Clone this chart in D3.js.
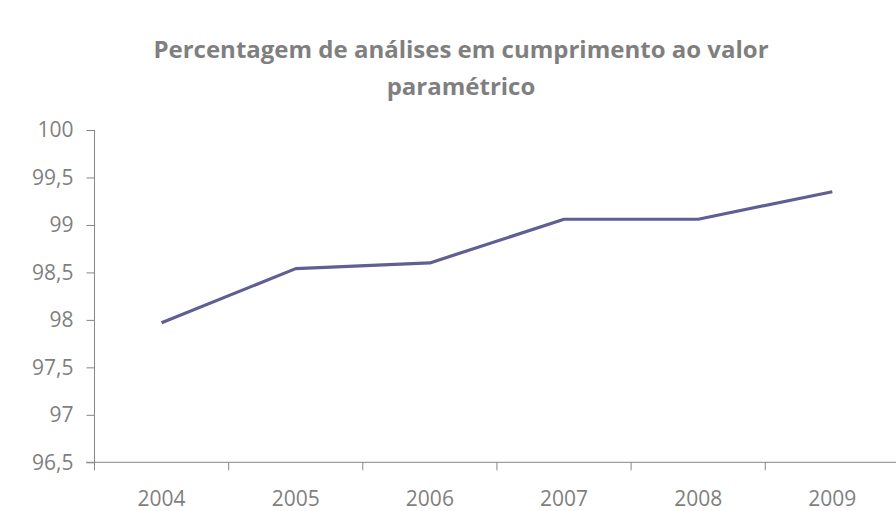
<!DOCTYPE html>
<html>
<head>
<meta charset="utf-8">
<script src="https://cdn.jsdelivr.net/npm/d3@7"></script>
<style>
  body { margin: 0; background: #fff; }
  svg { display: block; }
</style>
</head>
<body>
<div class="vis"></div>
<script>
const years = ["2004", "2005", "2006", "2007", "2008", "2009"],
    values = [97.97, 98.54, 98.6, 99.06, 99.06, 99.35],
    yTicks = [96.5, 97, 97.5, 98, 98.5, 99, 99.5, 100],
    titleLines = ["Percentagem de análises em cumprimento ao valor", "paramétrico"];

const width = 896,
    height = 511,
    margin = {top: 130, right: -3.4, bottom: 48.7, left: 94.5},
    textColor = "#7f7f7f",
    axisColor = "#868686",
    lineColor = "#5f5f95",
    font = "'Open Sans', 'Noto Sans', sans-serif";

let svg = d3.select(".vis")
    .append("svg")
    .attr("width", width)
    .attr("height", height)
    .style("font-family", font);

let x = d3.scaleBand()
    .domain(years)
    .range([margin.left, width - margin.right])
    .padding(0);

let y = d3.scaleLinear()
    .domain([96.5, 100])
    .range([height - margin.bottom, margin.top]);

// titulo
let title = svg.append("text")
    .attr("text-anchor", "middle")
    .attr("fill", textColor)
    .style("font-size", "24px")
    .style("font-weight", "bold");

title.selectAll("tspan")
    .data(titleLines)
    .join("tspan")
    .attr("x", 461)
    .attr("y", (d, i) => 58.3 + i * 36.7)
    .text(d => d);

// eixo y
let yAxis = svg.append("g")
    .attr("transform", "translate(" + margin.left + ",0)")
    .call(d3.axisLeft(y)
        .tickValues(yTicks)
        .tickSize(8)
        .tickPadding(13)
        .tickFormat(d => String(d).replace(".", ",")));

yAxis.select(".domain").remove();
yAxis.append("line")
    .attr("x1", 0).attr("x2", 0)
    .attr("y1", y(100)).attr("y2", y(96.5) + 8)
    .attr("stroke", axisColor);

// eixo x
let xAxis = svg.append("g")
    .attr("transform", "translate(0," + y(96.5) + ")")
    .call(d3.axisBottom(x).tickSize(0).tickPadding(29));

xAxis.select(".domain").remove();
xAxis.append("line")
    .attr("x1", margin.left - 8.5).attr("x2", width)
    .attr("y1", 0).attr("y2", 0)
    .attr("stroke", axisColor);

xAxis.selectAll(".sep")
    .data(years.slice(1))
    .join("line")
    .attr("class", "sep")
    .attr("x1", d => x(d)).attr("x2", d => x(d))
    .attr("y1", 0).attr("y2", 8)
    .attr("stroke", axisColor);

svg.selectAll(".tick line").attr("stroke", axisColor);
svg.selectAll(".tick text")
    .attr("fill", textColor)
    .style("font-size", "21px")
    .style("font-family", font);

// linha
let line = d3.line()
    .x((d, i) => x(years[i]) + x.bandwidth() / 2)
    .y(d => y(d));

svg.append("path")
    .datum(values)
    .attr("d", line)
    .attr("fill", "none")
    .attr("stroke", lineColor)
    .attr("stroke-width", 3.2)
    .attr("stroke-linejoin", "round");
</script>
</body>
</html>
